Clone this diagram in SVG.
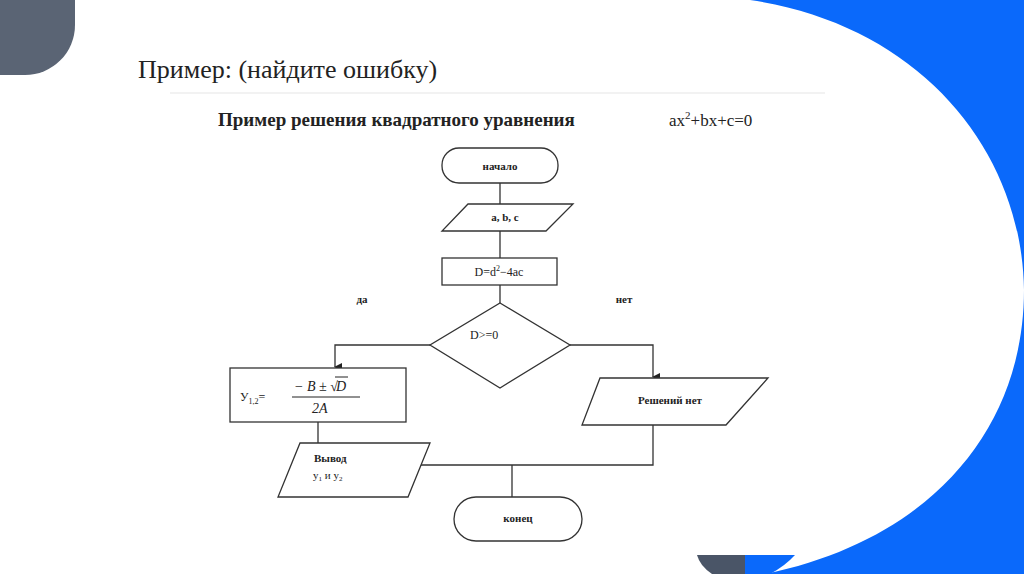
<svg xmlns="http://www.w3.org/2000/svg" width="1024" height="574" viewBox="0 0 1024 574">
<style>
.s{fill:#fff;stroke:#333;stroke-width:1.3}
.c{fill:none;stroke:#333;stroke-width:1.3}
.t{font-family:"Liberation Serif",serif;font-size:11px;fill:#222;font-weight:bold}
.m{font-family:"Liberation Serif",serif;fill:#222}
</style>
<defs><marker id="a" markerWidth="8" markerHeight="8" refX="4" refY="7" orient="auto" markerUnits="userSpaceOnUse"><path d="M0 0L8 0L4 8Z" fill="#222" transform="rotate(0)"/></marker></defs>
<rect width="1024" height="574" fill="#fff"/>
<path d="M750 0C920 25 1022 150 1024 290C1024 430 930 540 765 574L1024 574L1024 0Z" fill="#0a69fb"/>
<path d="M697 555H745V574H712Q700 566 697 555Z" fill="#4a5567"/>
<path d="M745 555H795Q785 566 770 574H745Z" fill="#0a69fb"/>
<path d="M0 0H75V25A50 50 0 0 1 25 75H0Z" fill="#5a6474"/>
<text x="138" y="78" class="m" font-size="26">Пример: (найдите ошибку)</text>
<line x1="170" y1="93" x2="825" y2="93" stroke="#eee" stroke-width="1.5"/>
<text x="218" y="126" class="m" font-size="19" font-weight="bold">Пример решения квадратного уравнения</text>
<text x="669" y="126" class="m" font-size="17">ax<tspan font-size="11" dy="-7">2</tspan><tspan dy="7">+bx+c=0</tspan></text>
<g id="connectors">
<path class="c" d="M500 183V204M500 231V258M500 285V303"/>
<path class="c" d="M430 345H335V367" marker-end="url(#a)"/>
<path class="c" d="M570 345H653V377" marker-end="url(#a)"/>
<path class="c" d="M318 422V443M653 425V465H418M512 465V497"/>
</g>
<g id="start"><rect class="s" x="442" y="148" width="116" height="35" rx="17"/><text class="t" x="500" y="170" text-anchor="middle">начало</text></g>
<g id="input"><path class="s" d="M468 204H573L546 231H442Z"/><text class="t" x="505" y="221" text-anchor="middle">a, b, c</text></g>
<g id="calc"><rect class="s" x="442" y="258" width="115" height="27"/><text class="m" x="499" y="276" text-anchor="middle" font-size="12">D=d<tspan font-size="8" dy="-5">2</tspan><tspan dy="5">−4ac</tspan></text></g>
<g id="cond"><path class="s" d="M500 303L570 345L500 388L430 345Z"/><text class="m" x="470" y="339" font-size="12">D&gt;=0</text></g>
<text class="t" x="362" y="303" text-anchor="middle">да</text>
<text class="t" x="624" y="303" text-anchor="middle">нет</text>
<g id="formula"><rect class="s" x="230" y="368" width="176" height="54"/>
<text class="m" x="240" y="401" font-size="12">У<tspan font-size="8" dy="3">1,2</tspan><tspan dy="-3">=</tspan></text>
<line x1="292" y1="397" x2="360" y2="397" stroke="#222"/>
<text class="m" x="294" y="391" font-size="14" font-style="italic">− B ± √</text>
<line x1="335" y1="377" x2="348" y2="377" stroke="#222"/>
<text class="m" x="336" y="391" font-size="14" font-style="italic">D</text>
<text class="m" x="312" y="413" font-size="14" font-style="italic">2A</text></g>
<g id="nosol"><path class="s" d="M600 378H768L726 425H582Z"/><text class="t" x="670" y="404" text-anchor="middle" font-size="12">Решений нет</text></g>
<g id="output"><path class="s" d="M300 443H430L408 497H278Z"/><text class="t" x="314" y="462" font-size="12">Вывод</text><text class="m" x="313" y="479" font-size="11">у<tspan font-size="7" dy="2">1</tspan><tspan dy="-2"> и у</tspan><tspan font-size="7" dy="2">2</tspan></text></g>
<g id="end"><rect class="s" x="454" y="497" width="128" height="44" rx="22"/><text class="t" x="518" y="522" text-anchor="middle">конец</text></g>
</svg>
